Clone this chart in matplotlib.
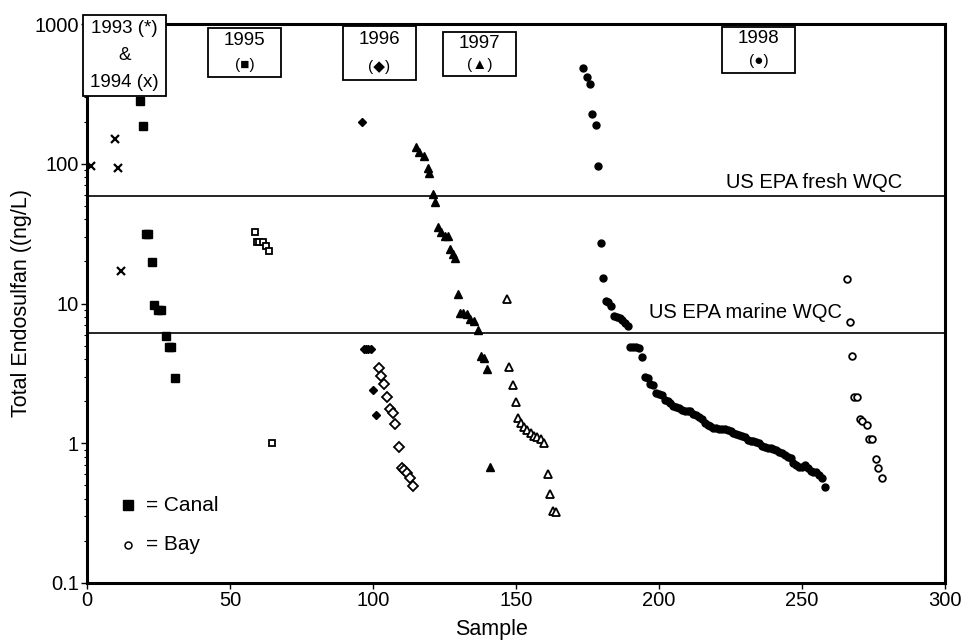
import numpy as np
import matplotlib
matplotlib.use("Agg")
import matplotlib.pyplot as plt
from matplotlib.patches import Rectangle

plt.rcParams['font.family'] = ['Liberation Sans', 'DejaVu Sans']

# ---- données (échantillon, ng/L) ----
# 1993/1994 (x)
x94 = [1.3, 9.7, 10.9, 12.0]
y94 = [96, 150, 93, 17]

# canal 1993/1994 (carrés pleins)
canal94_x = [18.5, 19.6, 20.7, 21.5, 22.6, 23.4, 24.8, 26.0, 27.7, 28.6, 29.4, 30.7]
canal94_y = [283, 187, 31.6, 31.6, 19.7, 9.7, 9.0, 9.0, 5.85, 4.9, 4.9, 2.94]

# baie 1995 (carrés vides)
bay95_x = [58.7, 59.4, 60.3, 61.5, 62.6, 63.7, 64.8]
bay95_y = [32.3, 27.5, 27.5, 27.5, 25.8, 23.6, 1.0]

# 1996 (losanges)
canal96_x = [96.0, 96.8, 97.6, 98.4, 99.2, 99.9, 100.9]
canal96_y = [200, 4.75, 4.75, 4.75, 4.7, 2.39, 1.58]
bay96_x = [102.0, 102.9, 104.0, 105.0, 105.8, 107.0, 107.8, 109.0, 110.0, 110.9, 112.0, 112.8, 113.9]
bay96_y = [3.44, 3.04, 2.65, 2.14, 1.77, 1.64, 1.38, 0.944, 0.662, 0.64, 0.615, 0.566, 0.494]

# 1997 (triangles)
canal97_x = [115.0, 116.2, 118.0, 119.1, 119.7, 120.9, 121.7, 122.6, 123.8, 125.2, 126.1,
             127.0, 127.9, 128.7, 129.6, 130.4, 131.6, 132.8, 133.9, 135.3, 136.7, 137.8,
             138.8, 139.9, 140.9]
canal97_y = [132, 122, 114, 92.7, 86, 60.8, 53.5, 35.5, 32.7, 30.6, 30.3, 24.5, 22.6, 21.0,
             11.6, 8.6, 8.5, 8.4, 7.7, 7.5, 6.5, 4.2, 4.1, 3.38, 0.68]
bay97_x = [147.0, 147.7, 149.1, 150.1, 150.6, 151.6, 152.8, 154.0, 155.1, 156.3, 157.4,
           158.6, 159.8, 161.1, 161.9, 162.9, 164.1]
bay97_y = [10.7, 3.49, 2.6, 1.96, 1.52, 1.40, 1.31, 1.24, 1.18, 1.13, 1.10, 1.08, 1.01,
           0.60, 0.43, 0.33, 0.32]

# 1998 (cercles)
canal98_x = [173.5, 174.7, 175.9, 176.7, 177.8, 178.8, 179.8, 180.5, 181.5, 182.3, 183.1,
             184.3, 185.2, 186.2, 187.2, 188.2, 189.0,
             190, 191, 192, 193, 194, 195, 196, 197, 198, 199, 200, 201, 202, 203, 204,
             205, 206, 207, 208, 209, 210, 211, 212, 213, 214, 215, 216, 217, 218, 219,
             220, 221, 222, 223, 224, 225, 226, 227, 228, 229, 230, 231, 232, 233, 234,
             235, 236, 237, 238, 239, 240, 241, 242, 243, 244, 245, 246, 247, 248, 249,
             250, 251, 252, 253, 254, 255, 256, 257, 258]
canal98_y = [482, 420, 370, 226, 189, 96.8, 27.2, 15.1, 10.5, 10.2, 9.6,
             8.2, 8.0, 7.9, 7.6, 7.2, 6.9,
             4.9, 4.9, 4.85, 4.8, 4.15, 3.0, 2.95, 2.65, 2.6, 2.3, 2.25, 2.2, 2.05, 2.0, 1.95,
             1.85, 1.83, 1.8, 1.72, 1.71, 1.70, 1.69, 1.62, 1.58, 1.55, 1.48, 1.40, 1.36, 1.32, 1.29,
             1.28, 1.27, 1.27, 1.26, 1.25, 1.22, 1.19, 1.16, 1.14, 1.12, 1.10, 1.06, 1.04, 1.03, 1.02,
             1.00, 0.96, 0.94, 0.93, 0.92, 0.91, 0.90, 0.87, 0.85, 0.83, 0.80, 0.78, 0.72, 0.70, 0.68,
             0.68, 0.70, 0.66, 0.63, 0.62, 0.62, 0.59, 0.56, 0.49]
bay98_x = [265.6, 266.8, 267.5, 268.2, 269.2, 270.2, 270.9, 272.6, 273.6, 274.6, 275.9, 276.5, 277.8]
bay98_y = [15, 7.4, 4.2, 2.15, 2.15, 1.5, 1.44, 1.36, 1.08, 1.08, 0.77, 0.66, 0.56]

WQC_FRESH = 59
WQC_MARINE = 6.2

W, H = 970, 640


def fx(px):
    return px / W


def fy(py):
    return 1 - py / H


fig = plt.figure(figsize=(9.7, 6.4), dpi=100)
ax = fig.add_axes([87 / W, 1 - 583 / H, 858 / W, 559 / H])

filled = dict(color="black", linestyle="none")
hollow = dict(color="black", linestyle="none", markerfacecolor="white", markeredgewidth=1.3)

ax.plot(x94, y94, marker="x", markersize=5.5, markeredgewidth=1.6, **filled)
ax.plot(canal94_x, canal94_y, marker="s", markersize=5.5, **filled)
ax.plot(bay95_x, bay95_y, marker="s", markersize=5, **hollow)
ax.plot(canal96_x, canal96_y, marker="D", markersize=4.5, **filled)
ax.plot(bay96_x, bay96_y, marker="D", markersize=4.6, **hollow)
ax.plot(canal97_x, canal97_y, marker="^", markersize=6, **filled)
ax.plot(bay97_x, bay97_y, marker="^", markersize=6, **hollow)
ax.plot(canal98_x, canal98_y, marker="o", markersize=5, **filled)
ax.plot(bay98_x, bay98_y, marker="o", markersize=4.8, **hollow)

ax.axhline(WQC_FRESH, color="black", linewidth=1.2)
ax.axhline(WQC_MARINE, color="black", linewidth=1.2)
fig.text(fx(902), fy(183), "US EPA fresh WQC", fontsize=14.5, ha="right", va="center")
fig.text(fx(842), fy(313), "US EPA marine WQC", fontsize=14.5, ha="right", va="center")

ax.set_yscale("log")
ax.set_ylim(0.1, 1000)
ax.set_xlim(0, 300)
ax.set_xticks([0, 50, 100, 150, 200, 250, 300])
ax.set_yticks([0.1, 1, 10, 100, 1000])
ax.set_yticklabels(["0.1", "1", "10", "100", "1000"])
ax.tick_params(axis="both", which="major", labelsize=14.5, length=4, width=1, pad=2)
ax.tick_params(axis="y", which="minor", length=2, width=0.8, labelleft=False)
for sp in ax.spines.values():
    sp.set_linewidth(2.2)

fig.text(fx(22), fy(303), "Total Endosulfan ((ng/L)", rotation=90, fontsize=15.5,
         ha="center", va="center")
fig.text(fx(492), fy(629), "Sample", fontsize=15.5, ha="center", va="center")

# légende maison
ax.plot([0.048], [0.1395], marker="s", markersize=7, color="black", transform=ax.transAxes,
        clip_on=False)
ax.plot([0.048], [0.068], marker="o", markersize=5, color="black", markerfacecolor="white",
        markeredgewidth=1.1, transform=ax.transAxes, clip_on=False)
ax.text(0.069, 0.1395, "= Canal", transform=ax.transAxes, fontsize=15, va="center")
ax.text(0.069, 0.068, "= Bay", transform=ax.transAxes, fontsize=15, va="center")

# cartouches des années (x0, y0, x1, y1 en pixels, lignes de texte)
boxes = [
    ((83, 15, 166, 96), ["1993 (*)", "&", "1994 (x)"]),
    ((208, 28, 281, 77), ["1995", "(■)"]),
    ((343, 26, 416, 80), ["1996", "(◆)"]),
    ((443, 32, 516, 76), ["1997", "(▲)"]),
    ((722, 27, 795, 73), ["1998", "(●)"]),
]
for (x0, y0, x1, y1), lines in boxes:
    fig.patches.append(Rectangle((fx(x0), fy(y1)), fx(x1) - fx(x0), fy(y0) - fy(y1),
                                 transform=fig.transFigure, facecolor="white",
                                 edgecolor="black", linewidth=1.3, zorder=5))
    n = len(lines)
    step = (y1 - y0) / n
    for i, line in enumerate(lines):
        fs = 11 if (n == 2 and i == 1) else 13.5
        fig.text(fx((x0 + x1) / 2), fy(y0 + step * (i + 0.5)), line, fontsize=fs,
                 ha="center", va="center", zorder=6)

fig.savefig("out.png", dpi=100)
